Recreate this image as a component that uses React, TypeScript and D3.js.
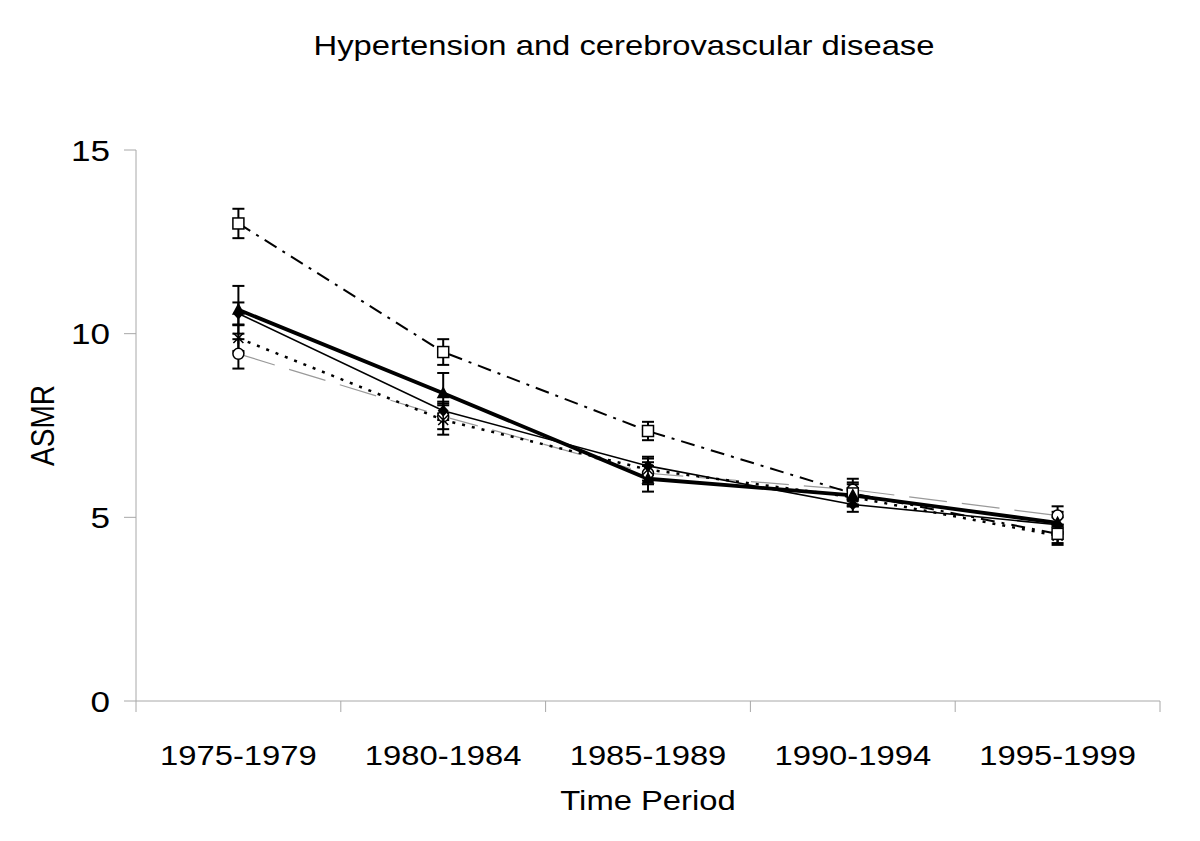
import React from "react";
import * as d3 from "d3";

const categories = ["1975-1979", "1980-1984", "1985-1989", "1990-1994", "1995-1999"];
const yTicks = [0, 5, 10, 15];

const squareVals = [13.0, 9.5, 7.35, 5.65, 4.55];
const squareErr = [0.4, 0.35, 0.25, 0.3, 0.25];
const triangleVals = [10.65, 8.38, 6.05, 5.6, 4.85];
const triangleErr = [0.65, 0.55, 0.35, 0.3, 0.3];
const diamondVals = [10.55, 7.9, 6.4, 5.35, 4.8];
const diamondErr = [0.3, 0.25, 0.25, 0.2, 0.2];
const crossVals = [9.88, 7.65, 6.3, 5.55, 4.5];
const crossErr = [0.35, 0.4, 0.3, 0.25, 0.25];
const circleVals = [9.45, 7.75, 6.2, 5.75, 5.05];
const circleErr = [0.4, 0.35, 0.3, 0.3, 0.25];

type Series = {
  name: string;
  values: number[];
  err: number[];
  marker: string;
  stroke: string;
  width: number;
  dash?: string;
};

const series: Series[] = [
  { name: "circle", values: circleVals, err: circleErr, marker: "circle", stroke: "#9a9a9a", width: 1.2, dash: "38,15" },
  { name: "cross", values: crossVals, err: crossErr, marker: "cross", stroke: "#000", width: 2.5, dash: "3,7" },
  { name: "diamond", values: diamondVals, err: diamondErr, marker: "diamond", stroke: "#000", width: 1.6 },
  { name: "square", values: squareVals, err: squareErr, marker: "square", stroke: "#000", width: 2, dash: "14,7,3,7" },
  { name: "triangle", values: triangleVals, err: triangleErr, marker: "triangle", stroke: "#000", width: 3.8 },
];

const W = 1200;
const H = 841;
const left = 136;
const right = 1160;
const top = 150;
const bottom = 701;
const SX = 1.17;

export default function App() {
  const x = d3.scaleBand<string>().domain(categories).range([left, right]);
  const y = d3.scaleLinear().domain([0, 15]).range([bottom, top]);
  const cx = (c: string) => (x(c) as number) + x.bandwidth() / 2;
  const line = d3
    .line<number>()
    .x((_, i) => cx(categories[i]))
    .y((d) => y(d));

  const marker = (type: string, px: number, py: number, key: string) => {
    switch (type) {
      case "square":
        return <rect key={key} x={px - 5.5} y={py - 5.5} width={11} height={11} fill="#fff" stroke="#000" strokeWidth={1.5} />;
      case "circle":
        return <circle key={key} cx={px} cy={py} r={5.5} fill="#fff" stroke="#000" strokeWidth={1.5} />;
      case "triangle":
        return <path key={key} d={`M${px},${py - 7}L${px + 6.5},${py + 5}L${px - 6.5},${py + 5}Z`} fill="#000" />;
      case "diamond":
        return <path key={key} d={`M${px},${py - 6}L${px + 5.5},${py}L${px},${py + 6}L${px - 5.5},${py}Z`} fill="#000" />;
      case "cross":
        return (
          <path
            key={key}
            d={`M${px - 5},${py - 5}L${px + 5},${py + 5}M${px + 5},${py - 5}L${px - 5},${py + 5}M${px},${py - 6}L${px},${py + 6}`}
            stroke="#000"
            strokeWidth={1.5}
            fill="none"
          />
        );
    }
    return null;
  };

  const font = "'Liberation Sans', Arial, sans-serif";
  const T = (px: number, py: number, extra = "") => `translate(${px},${py}) scale(${SX},1)${extra}`;

  return (
    <svg width={W} height={H} style={{ display: "block", position: "absolute", left: 0, top: 0, background: "#fff" }} fontFamily={font}>
      <rect x={0} y={0} width={W} height={H} fill="#fff" />
      <text transform={T(624, 55)} textAnchor="middle" fontSize={28}>
        Hypertension and cerebrovascular disease
      </text>

      {/* y axis */}
      <line x1={left} x2={left} y1={y(15)} y2={y(0)} stroke="#a8a8a8" strokeWidth={1} />
      {yTicks.map((t) => (
        <g key={t}>
          <line x1={left - 12} x2={left} y1={y(t)} y2={y(t)} stroke="#a8a8a8" strokeWidth={1} />
          <text transform={T(110, y(t))} dy="0.36em" textAnchor="end" fontSize={30}>
            {t}
          </text>
        </g>
      ))}
      <text transform={T(54, (top + bottom) / 2, " rotate(-90)")} textAnchor="middle" fontSize={28}>
        ASMR
      </text>

      {/* x axis */}
      <line x1={left} x2={right} y1={bottom} y2={bottom} stroke="#a8a8a8" strokeWidth={1} />
      {[...categories.map((c) => x(c) as number), right].map((p, i) => (
        <line key={i} x1={p} x2={p} y1={bottom} y2={bottom + 11} stroke="#a8a8a8" strokeWidth={1} />
      ))}
      {categories.map((c) => (
        <text key={c} transform={T(cx(c), 765)} textAnchor="middle" fontSize={28}>
          {c}
        </text>
      ))}
      <text transform={T(648, 810)} textAnchor="middle" fontSize={28}>
        Time Period
      </text>

      {/* lines */}
      {series.map((s) => (
        <path
          key={s.name}
          d={line(s.values) as string}
          fill="none"
          stroke={s.stroke}
          strokeWidth={s.width}
          strokeDasharray={s.dash}
        />
      ))}

      {/* error bars */}
      {series.map((s) =>
        s.values.map((v, i) => {
          const px = cx(categories[i]);
          const y1 = y(v + s.err[i]);
          const y2 = y(v - s.err[i]);
          return (
            <g key={`${s.name}-e-${i}`} stroke="#000" strokeWidth={2}>
              <line x1={px} x2={px} y1={y1} y2={y2} />
              <line x1={px - 6} x2={px + 6} y1={y1} y2={y1} />
              <line x1={px - 6} x2={px + 6} y1={y2} y2={y2} />
            </g>
          );
        })
      )}

      {/* markers */}
      {series.map((s) => s.values.map((v, i) => marker(s.marker, cx(categories[i]), y(v), `${s.name}-m-${i}`)))}
    </svg>
  );
}
